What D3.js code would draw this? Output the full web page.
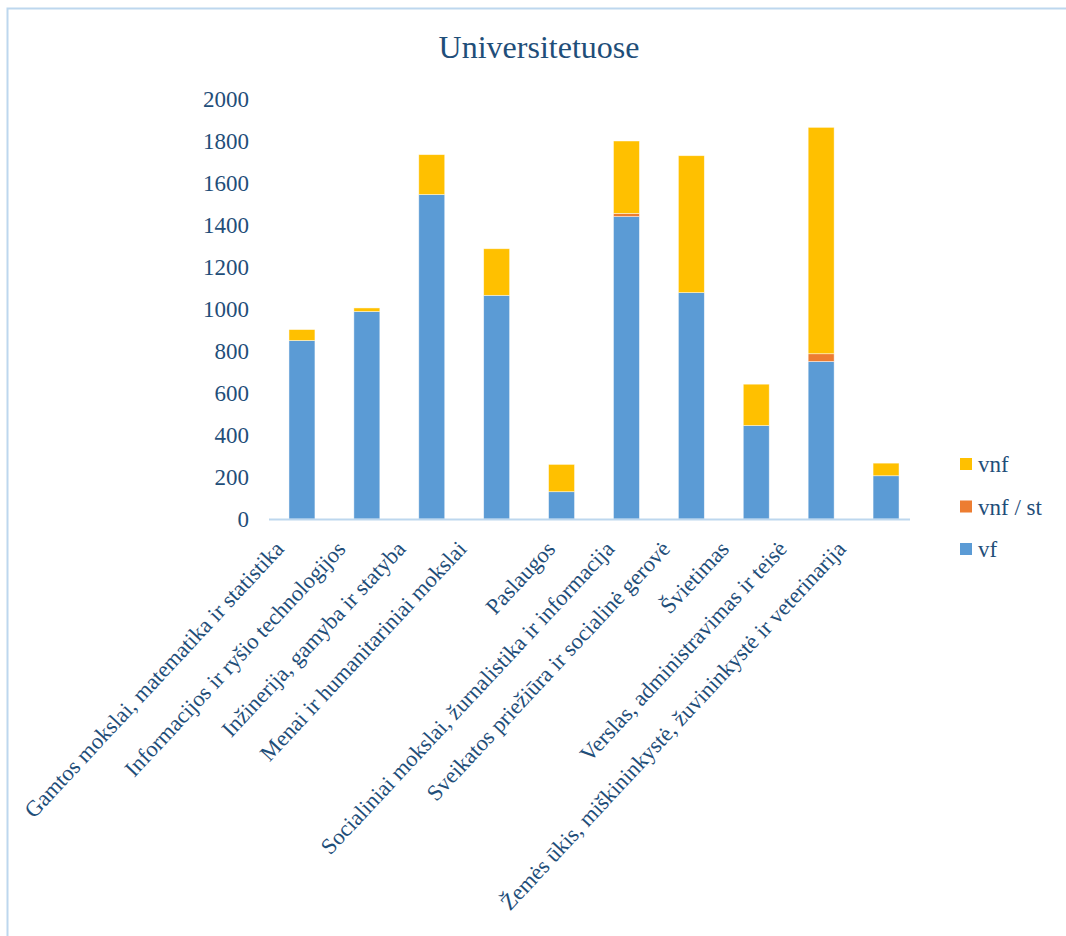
<!DOCTYPE html>
<html>
<head>
<meta charset="utf-8">
<script src="https://cdn.jsdelivr.net/npm/d3@7"></script>
<style>
  html, body { margin: 0; padding: 0; background: #fff; }
  svg { display: block; }
  text { font-family: "Liberation Serif", "Times New Roman", serif; }
</style>
</head>
<body>
<svg id="chart" width="1066" height="936"></svg>
<script>
// ---- data ----
const categories = [
  "Gamtos mokslai, matematika ir statistika",
  "Informacijos ir ryšio technologijos",
  "Inžinerija, gamyba ir statyba",
  "Menai ir humanitariniai mokslai",
  "Paslaugos",
  "Socialiniai mokslai, žurnalistika ir informacija",
  "Sveikatos priežiūra ir socialinė gerovė",
  "Švietimas",
  "Verslas, administravimas ir teisė",
  "Žemės ūkis, miškininkystė, žuvininkystė ir veterinarija"
];
const vf     = [850, 988, 1545, 1065, 130, 1440, 1078, 445, 750, 206];
const vnfSt  = [0, 0, 0, 0, 0, 15, 0, 0, 37, 0];
const vnf    = [52, 17, 190, 222, 130, 345, 652, 197, 1078, 60];
const seriesNames = ["vf", "vnf / st", "vnf"];
const yTicks = [0, 200, 400, 600, 800, 1000, 1200, 1400, 1600, 1800, 2000];
const title = "Universitetuose";

// ---- layout (not data) ----
const colors = { "vf": "#5B9BD5", "vnf / st": "#ED7D31", "vnf": "#FFC000" };
const textColor = "#1F4E79";
const font = "Liberation Serif";
const labelDx = [-17, -20, -25, -29, -5, -11, -20, -26, -33, -39];

const svg = d3.select("#chart");

// chart border
svg.append("rect")
  .attr("x", 7.5).attr("y", 8.5)
  .attr("width", 1200).attr("height", 1200)
  .attr("fill", "none").attr("stroke", "#BDD7EE").attr("stroke-width", 2);

const x = d3.scaleBand().domain(categories).range([269.5, 918.5]).paddingInner(0.6).paddingOuter(0.3);
const y = d3.scaleLinear().domain([0, 2000]).range([519, 99]);

// title
svg.append("text")
  .attr("x", 539).attr("y", 58)
  .attr("text-anchor", "middle")
  .attr("font-family", font).attr("font-size", 32)
  .attr("fill", textColor)
  .text(title);

// y axis (labels only)
const yAxis = d3.axisLeft(y).tickValues(yTicks).tickSize(0).tickPadding(0).tickFormat(d3.format("d"));
const gy = svg.append("g").attr("transform", "translate(249,0)").call(yAxis);
gy.attr("font-family", font).attr("font-size", 23);
gy.select(".domain").remove();
gy.selectAll("text")
  .attr("font-family", font).attr("font-size", 23)
  .attr("fill", textColor).attr("dy", "0.34em");

// stacked data
const table = categories.map((c, i) => ({ cat: c, "vf": vf[i], "vnf / st": vnfSt[i], "vnf": vnf[i] }));
const stack = d3.stack().keys(seriesNames)(table);

svg.append("g").selectAll("g")
  .data(stack).join("g")
  .attr("fill", d => colors[d.key])
  .selectAll("rect")
  .data(d => d).join("rect")
  .attr("x", d => x(d.data.cat))
  .attr("width", x.bandwidth())
  .attr("y", d => y(d[1]))
  .attr("height", d => y(d[0]) - y(d[1]))
  .attr("stroke", "#ffffff").attr("stroke-opacity", 0.6).attr("stroke-width", 0.75);

// x axis line
svg.append("line")
  .attr("x1", 269).attr("x2", 910)
  .attr("y1", y(0) + 0.5).attr("y2", y(0) + 0.5)
  .attr("stroke", "#BDD7EE").attr("stroke-width", 2);

// category labels
svg.append("g").selectAll("text")
  .data(categories).join("text")
  .attr("transform", (d, i) => `translate(${x(d) + x.bandwidth() / 2 + labelDx[i]},550) rotate(-47)`)
  .attr("text-anchor", "end")
  .attr("font-family", font).attr("font-size", 22.5)
  .attr("fill", textColor)
  .text(d => d);

// legend (vnf on top)
const legendOrder = ["vnf", "vnf / st", "vf"];
const lg = svg.append("g").selectAll("g")
  .data(legendOrder).join("g")
  .attr("transform", (d, i) => `translate(960,${458 + i * 42.5})`);
lg.append("rect").attr("width", 12).attr("height", 12).attr("fill", d => colors[d]);
lg.append("text")
  .attr("x", 18).attr("y", 14)
  .attr("font-family", font).attr("font-size", 23)
  .attr("fill", textColor)
  .text(d => d);
</script>
</body>
</html>
